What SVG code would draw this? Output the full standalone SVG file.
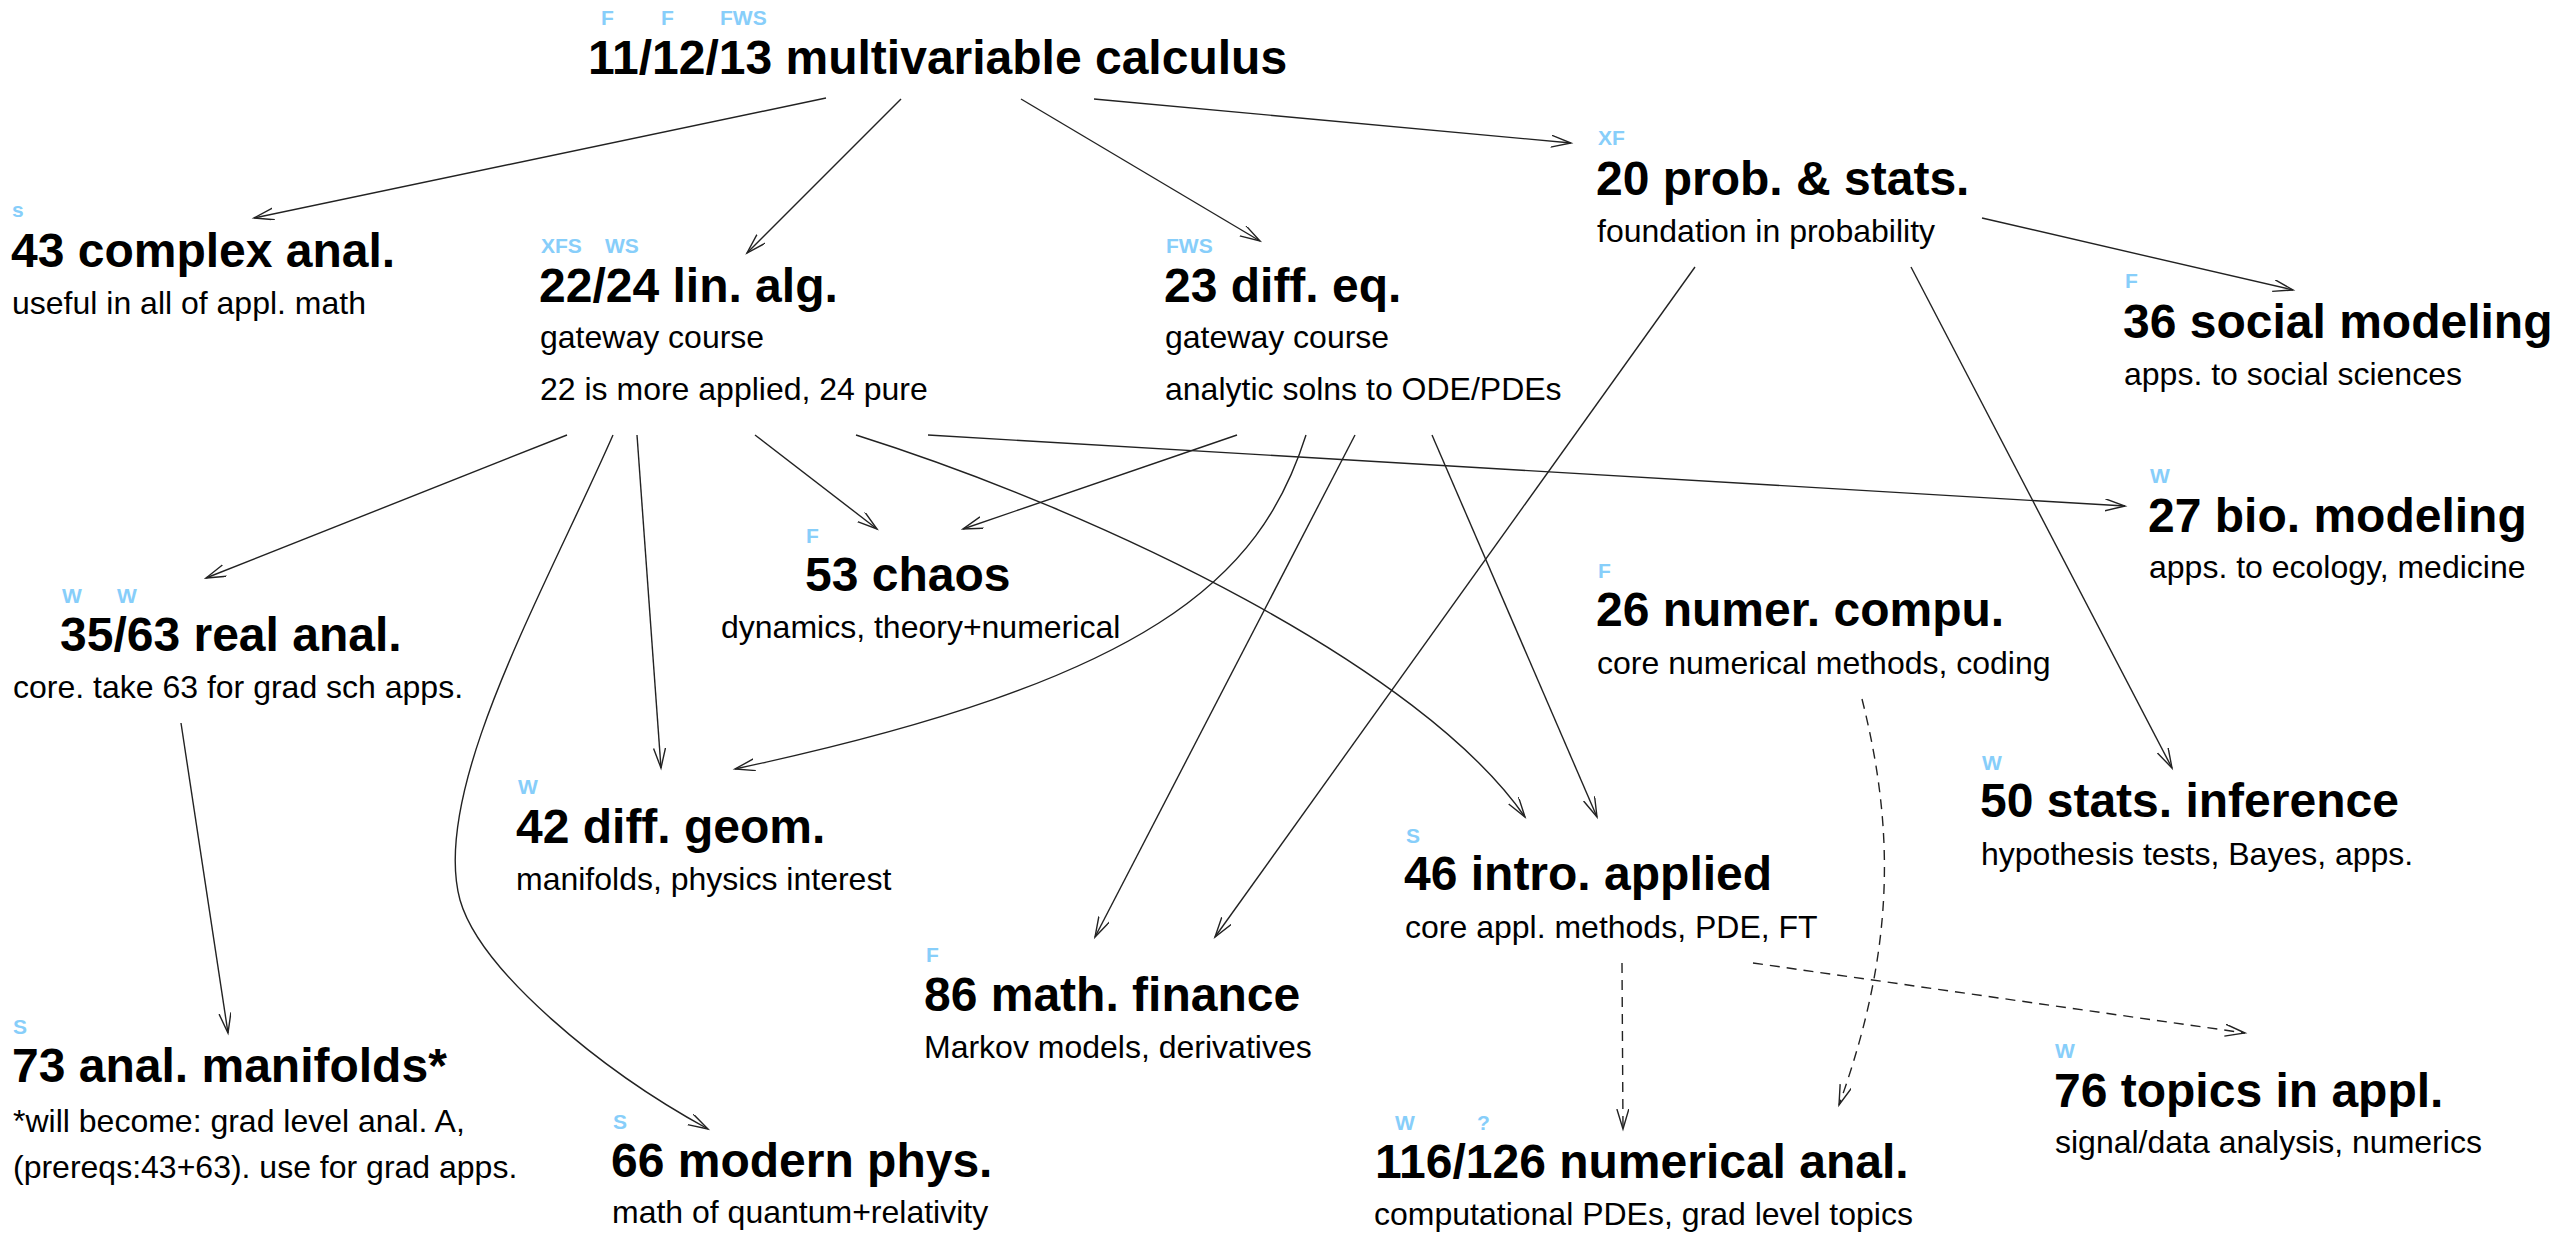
<svg xmlns="http://www.w3.org/2000/svg" width="2575" height="1233" viewBox="0 0 2575 1233">
<style>
text{font-family:"Liberation Sans",Arial,Helvetica,sans-serif}
.tag{font-size:21px;font-weight:bold;fill:#87cefa}
.title{font-size:48px;font-weight:bold;fill:#000}
.sub{font-size:32px;fill:#000}
.edge{fill:none;stroke:#222;stroke-width:1.4;marker-end:url(#arr)}
.dash{stroke-dasharray:10,7}
</style>
<defs>
<marker id="arr" markerUnits="userSpaceOnUse" markerWidth="24" markerHeight="14" refX="20" refY="6" orient="auto">
<path d="M0,0 L20,6 L0,12" fill="none" stroke="#222" stroke-width="1.4"/>
</marker>
</defs>
<rect width="2575" height="1233" fill="#fff"/>
<g id="connectors">
<path class="edge" d="M826,98 L254,218"/>
<path class="edge" d="M901,99 L747,253"/>
<path class="edge" d="M1021,99 L1260,241"/>
<path class="edge" d="M1094,99 L1571,143"/>
<path class="edge" d="M1982,218 L2293,290"/>
<path class="edge" d="M1695,267 L1215,937"/>
<path class="edge" d="M1911,267 L2172,768"/>
<path class="edge" d="M567,435 L206,578"/>
<path class="edge" d="M613,435 C545,590 430,790 460,900 C480,970 600,1070 708,1129"/>
<path class="edge" d="M637,435 L661,768"/>
<path class="edge" d="M755,435 L877,529"/>
<path class="edge" d="M856,435 C1106,514 1421,667 1525,817"/>
<path class="edge" d="M928,435 L2125,506"/>
<path class="edge" d="M1237,435 L963,529"/>
<path class="edge" d="M1306,435 C1260,580 1150,680 735,769"/>
<path class="edge" d="M1355,435 L1095,937"/>
<path class="edge" d="M1432,435 L1597,817"/>
<path class="edge" d="M181,723 L228,1033"/>
<path class="edge dash" d="M1862,699 C1895,830 1895,950 1839,1105"/>
<path class="edge dash" d="M1622,963 L1623,1129"/>
<path class="edge dash" d="M1753,963 L2245,1033"/>
</g>
<g id="n_calc">
<text class="tag" x="601" y="25">F</text>
<text class="tag" x="661" y="25">F</text>
<text class="tag" x="720" y="25">FWS</text>
<text class="title" x="588" y="74">11/12/13 multivariable calculus</text>
</g>
<g id="n_complex">
<text class="tag" x="12" y="217">s</text>
<text class="title" x="11" y="267">43 complex anal.</text>
<text class="sub" x="12" y="314">useful in all of appl. math</text>
</g>
<g id="n_linalg">
<text class="tag" x="541" y="253">XFS</text>
<text class="tag" x="605" y="253">WS</text>
<text class="title" x="539" y="302">22/24 lin. alg.</text>
<text class="sub" x="540" y="348">gateway course</text>
<text class="sub" x="540" y="400">22 is more applied, 24 pure</text>
</g>
<g id="n_diffeq">
<text class="tag" x="1166" y="253">FWS</text>
<text class="title" x="1164" y="302">23 diff. eq.</text>
<text class="sub" x="1165" y="348">gateway course</text>
<text class="sub" x="1165" y="400">analytic solns to ODE/PDEs</text>
</g>
<g id="n_prob">
<text class="tag" x="1598" y="145">XF</text>
<text class="title" x="1596" y="195">20 prob. &amp; stats.</text>
<text class="sub" x="1597" y="242">foundation in probability</text>
</g>
<g id="n_social">
<text class="tag" x="2125" y="288">F</text>
<text class="title" x="2123" y="338">36 social modeling</text>
<text class="sub" x="2124" y="385">apps. to social sciences</text>
</g>
<g id="n_bio">
<text class="tag" x="2150" y="483">W</text>
<text class="title" x="2148" y="532">27 bio. modeling</text>
<text class="sub" x="2149" y="578">apps. to ecology, medicine</text>
</g>
<g id="n_real">
<text class="tag" x="62" y="603">W</text>
<text class="tag" x="117" y="603">W</text>
<text class="title" x="60" y="651">35/63 real anal.</text>
<text class="sub" x="13" y="698">core. take 63 for grad sch apps.</text>
</g>
<g id="n_chaos">
<text class="tag" x="806" y="543">F</text>
<text class="title" x="805" y="591">53 chaos</text>
<text class="sub" x="721" y="638">dynamics, theory+numerical</text>
</g>
<g id="n_numer">
<text class="tag" x="1598" y="578">F</text>
<text class="title" x="1596" y="626">26 numer. compu.</text>
<text class="sub" x="1597" y="674">core numerical methods, coding</text>
</g>
<g id="n_diffgeom">
<text class="tag" x="518" y="794">W</text>
<text class="title" x="516" y="843">42 diff. geom.</text>
<text class="sub" x="516" y="890">manifolds, physics interest</text>
</g>
<g id="n_statsinf">
<text class="tag" x="1982" y="770">W</text>
<text class="title" x="1980" y="817">50 stats. inference</text>
<text class="sub" x="1981" y="865">hypothesis tests, Bayes, apps.</text>
</g>
<g id="n_intro">
<text class="tag" x="1406" y="843">S</text>
<text class="title" x="1404" y="890">46 intro. applied</text>
<text class="sub" x="1405" y="938">core appl. methods, PDE, FT</text>
</g>
<g id="n_finance">
<text class="tag" x="926" y="962">F</text>
<text class="title" x="924" y="1011">86 math. finance</text>
<text class="sub" x="924" y="1058">Markov models, derivatives</text>
</g>
<g id="n_manifolds">
<text class="tag" x="13" y="1034">S</text>
<text class="title" x="12" y="1082">73 anal. manifolds*</text>
<text class="sub" x="13" y="1132">*will become: grad level anal. A,</text>
<text class="sub" x="13" y="1178">(prereqs:43+63). use for grad apps.</text>
</g>
<g id="n_physics">
<text class="tag" x="613" y="1129">S</text>
<text class="title" x="611" y="1177">66 modern phys.</text>
<text class="sub" x="612" y="1223">math of quantum+relativity</text>
</g>
<g id="n_numanal">
<text class="tag" x="1395" y="1130">W</text>
<text class="tag" x="1477" y="1130">?</text>
<text class="title" x="1375" y="1178">116/126 numerical anal.</text>
<text class="sub" x="1374" y="1225">computational PDEs, grad level topics</text>
</g>
<g id="n_topics">
<text class="tag" x="2055" y="1058">W</text>
<text class="title" x="2054" y="1107">76 topics in appl.</text>
<text class="sub" x="2055" y="1153">signal/data analysis, numerics</text>
</g>
</svg>
